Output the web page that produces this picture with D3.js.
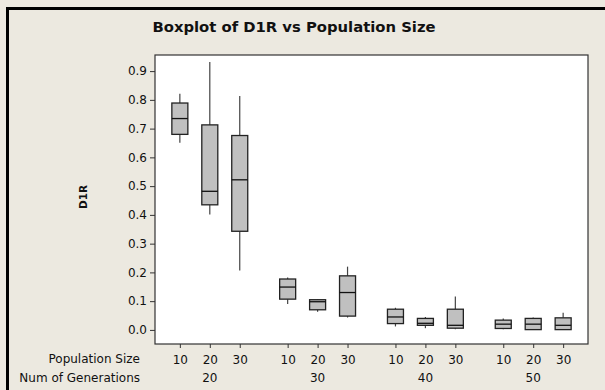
<!DOCTYPE html>
<meta charset="utf-8">
<script src="https://d3js.org/d3.v7.min.js"></script>
<style>
  body { margin: 0; background: #ece9e0; }
  text { font-family: "DejaVu Sans", sans-serif; fill: #111; }
</style>
<div id="my_dataviz"></div>
<script>
// data
var generations = ["20", "30", "40", "50"];
var popSizes = ["10", "20", "30"];
// one entry per box, order: gen 20 (10,20,30), gen 30 (...), ...
var whiskerLow  = [0.651, 0.401, 0.207, 0.090, 0.063, 0.043, 0.012, 0.006, 0.002, 0.002, 0.000, 0.000];
var q1          = [0.680, 0.435, 0.343, 0.107, 0.070, 0.048, 0.022, 0.016, 0.006, 0.005, 0.001, 0.001];
var median      = [0.735, 0.482, 0.522, 0.149, 0.098, 0.130, 0.045, 0.023, 0.016, 0.020, 0.020, 0.016];
var q3          = [0.789, 0.713, 0.676, 0.177, 0.105, 0.188, 0.072, 0.040, 0.072, 0.034, 0.040, 0.042];
var whiskerHigh = [0.821, 0.932, 0.813, 0.182, 0.107, 0.220, 0.077, 0.045, 0.116, 0.040, 0.043, 0.060];
var yTicks = [0.0, 0.1, 0.2, 0.3, 0.4, 0.5, 0.6, 0.7, 0.8, 0.9];

var W = 605, H = 390;
var plot = {left: 155, right: 588, top: 55, bottom: 344};
var fontSize = "12px";

var svg = d3.select("#my_dataviz").append("svg")
  .attr("width", W).attr("height", H);

// frame (dark edge top and left only)
svg.append("rect").attr("x", 6).attr("y", 7).attr("width", W).attr("height", H)
  .attr("fill", "#ece9e0");
svg.append("path").attr("d", "M7.5," + H + "V8.5H" + W)
  .attr("fill", "none").attr("stroke", "#000").attr("stroke-width", 3);

// boxes sit at index positions with an extra gap between generations
var boxes = [];
generations.forEach(function(g, gi) {
  popSizes.forEach(function(p, pi) {
    var k = gi * 3 + pi;
    boxes.push({gen: g, pop: p, pos: gi * 3.6 + pi,
      lo: whiskerLow[k], q1: q1[k], med: median[k], q3: q3[k], hi: whiskerHigh[k]});
  });
});

var x = d3.scaleLinear().domain([-0.83, 13.63]).range([plot.left, plot.right]);
var y = d3.scaleLinear().domain([-0.049, 0.956]).range([plot.bottom, plot.top]);
var boxW = 16;

svg.append("rect")
  .attr("x", plot.left).attr("y", plot.top)
  .attr("width", plot.right - plot.left).attr("height", plot.bottom - plot.top)
  .attr("fill", "#fff").attr("stroke", "#333").attr("stroke-width", 1.2);

// y axis
var yAxis = svg.append("g")
  .attr("transform", "translate(" + plot.left + ",0)")
  .call(d3.axisLeft(y).tickValues(yTicks).tickFormat(d3.format(".1f")).tickSize(5).tickPadding(3));
yAxis.select(".domain").remove();
yAxis.selectAll("line").attr("stroke", "#333");
yAxis.selectAll("text").style("font-size", fontSize)
  .style("font-family", "'DejaVu Sans', sans-serif").attr("fill", "#111");

// x axis ticks
var xAxis = svg.append("g")
  .attr("transform", "translate(0," + plot.bottom + ")")
  .call(d3.axisBottom(x).tickValues(boxes.map(function(d) { return d.pos; }))
    .tickFormat(function(d, i) { return boxes[i].pop; }).tickSize(4).tickPadding(7));
xAxis.select(".domain").remove();
xAxis.selectAll("line").attr("stroke", "#333");
xAxis.selectAll("text").style("font-size", fontSize)
  .style("font-family", "'DejaVu Sans', sans-serif").attr("fill", "#111");

// generation labels under middle box
svg.append("g").selectAll("text")
  .data(generations)
  .enter().append("text")
    .attr("x", function(d, i) { return x(i * 3.6 + 1); })
    .attr("y", 382)
    .attr("text-anchor", "middle")
    .style("font-size", fontSize)
    .text(function(d) { return d; });

svg.append("text").attr("x", 140).attr("y", 363).attr("text-anchor", "end")
  .style("font-size", fontSize).text("Population Size");
svg.append("text").attr("x", 140).attr("y", 382).attr("text-anchor", "end")
  .style("font-size", fontSize).text("Num of Generations");

// boxes
var g = svg.append("g").selectAll("g").data(boxes).enter().append("g");

g.append("line")
  .attr("x1", function(d) { return x(d.pos); }).attr("x2", function(d) { return x(d.pos); })
  .attr("y1", function(d) { return y(d.hi); }).attr("y2", function(d) { return y(d.q3); })
  .attr("stroke", "#444").attr("stroke-width", 1.2);
g.append("line")
  .attr("x1", function(d) { return x(d.pos); }).attr("x2", function(d) { return x(d.pos); })
  .attr("y1", function(d) { return y(d.q1); }).attr("y2", function(d) { return y(d.lo); })
  .attr("stroke", "#444").attr("stroke-width", 1.2);
g.append("rect")
  .attr("x", function(d) { return x(d.pos) - boxW / 2; })
  .attr("y", function(d) { return y(d.q3); })
  .attr("width", boxW)
  .attr("height", function(d) { return y(d.q1) - y(d.q3); })
  .attr("fill", "#c0c0c0").attr("stroke", "#222").attr("stroke-width", 1.3);
g.append("line")
  .attr("x1", function(d) { return x(d.pos) - boxW / 2; }).attr("x2", function(d) { return x(d.pos) + boxW / 2; })
  .attr("y1", function(d) { return y(d.med); }).attr("y2", function(d) { return y(d.med); })
  .attr("stroke", "#111").attr("stroke-width", 1.3);

// title and y label
svg.append("text").attr("x", 294).attr("y", 32).attr("text-anchor", "middle")
  .style("font-size", "14.8px").style("font-weight", "bold")
  .text("Boxplot of D1R vs Population Size");
svg.append("text").attr("transform", "translate(87,197) rotate(-90)").attr("text-anchor", "middle")
  .style("font-size", "10.5px").style("font-weight", "bold")
  .text("D1R");
</script>
